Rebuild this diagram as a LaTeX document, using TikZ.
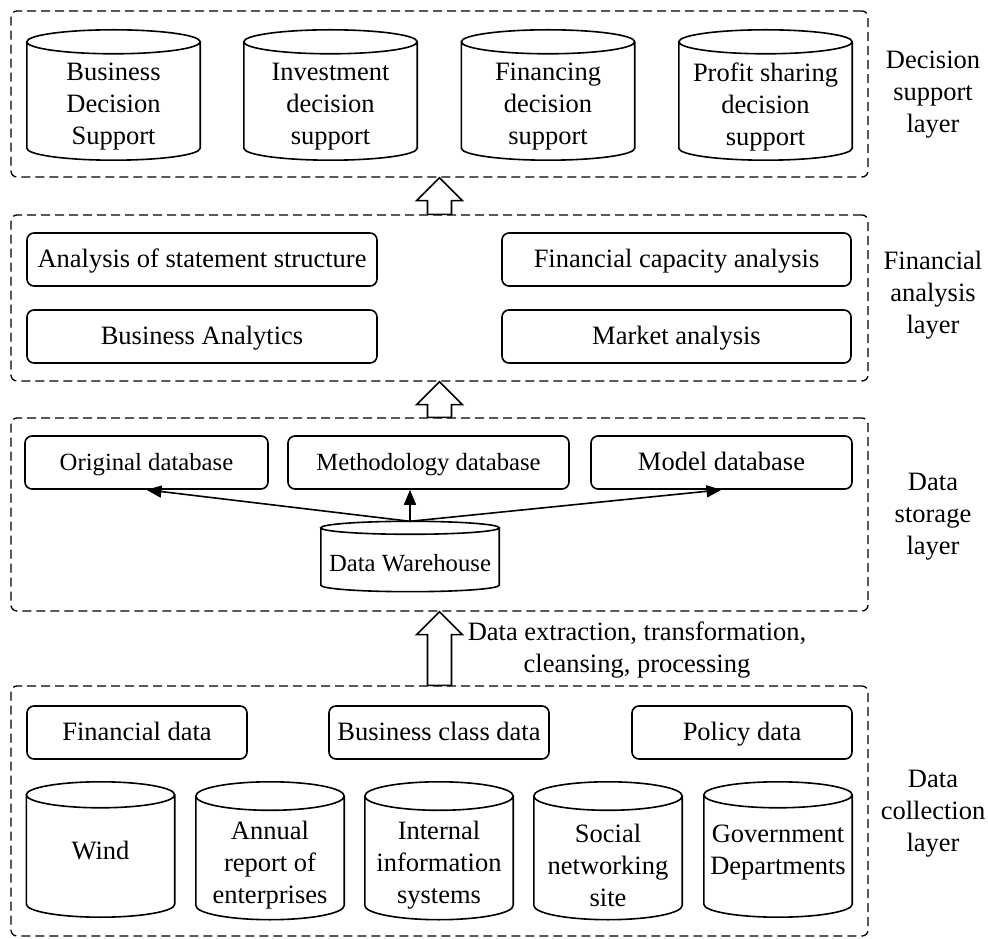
\documentclass[tikz,border=0pt]{standalone}
\usepackage{fontspec}
\setmainfont{Liberation Serif}
\usetikzlibrary{calc, arrows.meta}

\tikzset{
  layer/.style={rectangle, draw, dash pattern=on 9pt off 5pt, rounded corners=6pt, line width=1.3pt, minimum width=857},
  module/.style={rectangle, draw, rounded corners=7pt, line width=1.6pt, align=center, inner sep=0pt, minimum height=53, text height=18pt, text depth=2pt},
  store/.style={rectangle, align=center, inner sep=0pt},
  sidelabel/.style={align=center},
  flow/.style={line width=1.6pt, -{Triangle[length=15pt, width=12pt]}},
  hollow/.style={line width=1.6pt, fill=white, line join=miter}
}
% block arrow from lower layer (#1) up to upper layer (#2)
\newcommand{\layerarrow}[2]{%
  \draw[hollow] ($(#1)+(-12,0)$) -- ($(#2)+(-12,-23)$) -- ($(#2)+(-23,-23)$) -- (#2)
    -- ($(#2)+(23,-23)$) -- ($(#2)+(12,-23)$) -- ($(#1)+(12,0)$) -- cycle;}
% cylinder drawn round the body node #1, ends with y radius #2
\newcommand{\storeoutline}[2]{%
  \draw[line width=1.6pt] let \p1=(#1.west), \p2=(#1.east), \n1={(\x2-\x1)/2} in
    ($(#1.north west)+(0,#2)$) -- ($(#1.south west)+(0,#2)$)
    arc[start angle=180, end angle=360, x radius=\n1, y radius=#2pt]
    -- ($(#1.north east)+(0,#2)$)
    ($(#1.north)+(0,#2)$) ellipse[x radius=\n1, y radius=#2pt];}

\begin{document}
\begin{tikzpicture}[x=1pt, y=1pt, font=\fontsize{26.5}{32}\selectfont]
    \useasboundingbox (0,0) rectangle (988,938);

    % decision support layer
    \node[layer, minimum height=166] (dsl) at (439.5, 844) {};
    \node[sidelabel] (dsl_lbl) at (933, 843) {Decision\\support\\layer};
    \node[store, minimum width=173, minimum height=106] (business_ds) at (113.5, 831) {Business\\Decision\\Support};
    \node[store, minimum width=173, minimum height=106] (investment_ds) at (330.5, 831) {Investment\\decision\\support};
    \node[store, minimum width=173, minimum height=106] (financing_ds) at (548, 831) {Financing\\decision\\support};
    \node[store, minimum width=173, minimum height=106] (profit_ds) at (765.5, 831) {Profit sharing\\decision\\support};

    % financial analysis layer
    \node[layer, minimum height=166] (fal) at (439.5, 640) {};
    \node[sidelabel] (fal_lbl) at (933, 643) {Financial\\analysis\\layer};
    \node[module, minimum width=350] (statement) at (202, 678.5) {Analysis of statement structure};
    \node[module, minimum width=349] (capacity) at (676.5, 678.5) {Financial capacity analysis};
    \node[module, minimum width=350] (business_an) at (202, 601.5) {Business Analytics};
    \node[module, minimum width=349] (market) at (676.5, 601.5) {Market analysis};

    % data storage layer
    \node[layer, minimum height=193] (dstl) at (439.5, 423.5) {};
    \node[sidelabel] (dstl_lbl) at (933, 421) {Data\\storage\\layer};
    \node[module, minimum width=243, font=\fontsize{24.7}{30}\selectfont] (original_db) at (146.5, 475.5) {Original database};
    \node[module, minimum width=281, font=\fontsize{24.7}{30}\selectfont] (method_db) at (428.5, 475.5) {Methodology database};
    \node[module, minimum width=261] (model_db) at (721.5, 475.5) {Model database};
    \node[store, minimum width=178, minimum height=57, font=\fontsize{24.7}{30}\selectfont] (warehouse) at (410, 375) {Data Warehouse};
    \coordinate (wh_top) at ($(warehouse.north)+(0,13)$);

    \draw[flow] (wh_top) -- (original_db.south);
    \draw[flow] (wh_top) -- (wh_top |- method_db.south);
    \draw[flow] (wh_top) -- (model_db.south);

    % data collection layer
    \node[layer, minimum height=250] (dcl) at (439.5, 127) {};
    \node[sidelabel] (dcl_lbl) at (933, 124) {Data\\collection\\layer};
    \node[module, minimum width=220] (fin_data) at (137, 205.5) {Financial data};
    \node[module, minimum width=220] (bus_data) at (439, 205.5) {Business class data};
    \node[module, minimum width=220] (pol_data) at (742, 205.5) {Policy data};
    \node[store, minimum width=148, minimum height=109, text depth=25pt] (wind) at (100.5, 75.5) {Wind};
    \node[store, minimum width=148, minimum height=109] (annual) at (270, 73) {Annual\\report of\\enterprises};
    \node[store, minimum width=148, minimum height=109] (internal) at (439, 73) {Internal\\information\\systems};
    \node[store, minimum width=148, minimum height=109] (social) at (608, 73) {Social\\networking\\site};
    \node[store, minimum width=148, minimum height=109, text depth=25pt] (government) at (778, 75.5) {Government\\Departments};

    \foreach \s/\r in {business_ds/12, investment_ds/12, financing_ds/12, profit_ds/12, warehouse/6.5,
        wind/13, government/13}
        {\storeoutline{\s}{\r}}
    \foreach \s in {annual, internal, social}
        {\storeoutline{\s}{14.25}}

    % layer to layer
    \layerarrow{fal.north}{dsl.south}
    \layerarrow{dstl.north}{fal.south}
    \layerarrow{dcl.north}{dstl.south}
    \node[align=center] (etl_lbl) at (637, 288) {Data extraction, transformation,\\cleansing, processing};
\end{tikzpicture}
\end{document}
